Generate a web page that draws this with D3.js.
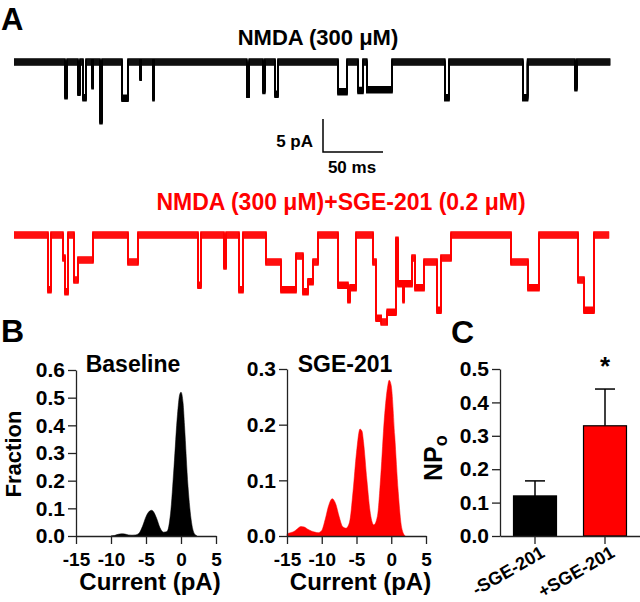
<!DOCTYPE html>
<html><head><meta charset="utf-8">
<script src="https://cdn.jsdelivr.net/npm/d3@7"></script>
<style>
html,body{margin:0;padding:0;background:#fff;}
svg text{font-family:"Liberation Sans",Arial,Helvetica,sans-serif;font-weight:bold;}
</style></head>
<body><svg id="fig" width="640" height="602"></svg>
<script>
// ---------- DATA ----------
// Panel A: idealised single-channel traces, step points (time ms, current pA)
const ctrlT = [0,42.5,44.2,53.3,55,57.5,60,65,66,71.7,73.3,90,95,105,106,115.8,116.7,194,196,207.5,209,217.5,220,270,277.5,286.7,290.8,294,315,359,362.5,424,428,467.5,469,497];
const ctrlI = [0,-5.1,0,-4.6,0,-5.4,0,-3.6,0,-8.9,0,-5.5,0,-2.3,0,-5.4,0,-4.9,0,-4.3,0,-4.9,0,-4.5,0,-4.3,0,-4.2,0,-5.4,0,-5.4,0,-3.9,0,0];
const sgeT = [0,28.3,30.8,40.8,42.5,45,50,53.3,65.8,95,103.3,153.3,155.8,175,176.7,187.5,190.8,210,222.5,235,240.8,245,249.2,253.3,270,278.3,280,285,299.2,301.7,306,311,318.3,320,324.2,325,331.7,334.2,341.7,352.5,355.8,364.2,414.2,428.3,437.5,470,475,483.3,496];
const sgeI = [0,-8.3,0,-3.5,-8.6,0,-6.8,-3.8,0,-4.1,0,-7.6,0,-4.7,0,-8.3,0,-4.1,-8.3,-3.2,-8.6,-7.1,-4.1,0,-7.6,-9.8,-8.0,0,-4.1,-12.6,-13.2,-11.7,-0.8,-7.4,-9.8,-7.4,-3.5,-8.0,-4.1,-11.4,-3.5,0,-4.1,-8.0,0,-6.8,-11.4,0,0];

// Panel B: amplitude histograms (current pA, fraction)
const baseCurrent = [-10,-9.5,-9,-8.5,-8,-7.5,-7,-6.5,-6,-5.5,-5,-4.5,-4.2,-4,-3.5,-3,-2.5,-2,-1.5,-1,-0.5,-0.2,0,0.3,0.5,1,1.5,2,2.3];
const baseFrac    = [0,0.002,0.006,0.008,0.007,0.004,0.003,0.004,0.01,0.035,0.07,0.09,0.093,0.09,0.065,0.03,0.014,0.016,0.08,0.25,0.44,0.51,0.52,0.48,0.40,0.18,0.05,0.005,0];
const sgeCurrent = [-15,-14.5,-14,-13.5,-13,-12.5,-12,-11.5,-11,-10.5,-10,-9.5,-9,-8.5,-8,-7.5,-7,-6.5,-6,-5.5,-5,-4.5,-4.2,-4,-3.5,-3,-2.5,-2,-1.5,-1,-0.5,-0.3,0,0.5,1,1.5,2];
const sgeFrac    = [0.004,0.006,0.008,0.013,0.017,0.016,0.012,0.009,0.007,0.006,0.01,0.03,0.055,0.067,0.058,0.035,0.017,0.014,0.025,0.08,0.15,0.192,0.188,0.17,0.10,0.04,0.02,0.035,0.11,0.21,0.27,0.28,0.27,0.18,0.08,0.015,0];
const histXTicks = [-15,-10,-5,0,5];
const baseYTicks = [0,0.1,0.2,0.3,0.4,0.5,0.6];
const sgeYTicks = [0,0.1,0.2,0.3];

// Panel C: NPo bar chart
const npoCats = ["-SGE-201","+SGE-201"];
const npoMean = [0.12,0.33];
const npoSem  = [0.045,0.11];
const npoYTicks = [0,0.1,0.2,0.3,0.4,0.5];

// ---------- DRAW ----------
const svg = d3.select("#fig");
const RED = "#ff0000";

function label(txt,x,y,size,opts={}){
  const t = svg.append("text").attr("x",x).attr("y",y).style("font-size",size+"px")
    .attr("fill",opts.fill||"#000").attr("text-anchor",opts.anchor||"start").text(txt);
  if(opts.transform) t.attr("transform",opts.transform);
  return t;
}

// Panel letters
label("A",1,30,31);
label("B",1,342,32);
label("C",451,343,32);

// ---- Panel A traces ----
const tScale = d3.scaleLinear().domain([0,500]).range([14,614]);
function drawTrace(T,I,baseY,color,offs){
  const yS = d3.scaleLinear().domain([0,-10]).range([baseY,baseY+66]);
  const pts = T.map((t,i)=>[t,I[i]]);
  const line = d3.line().x(d=>tScale(d[0])).y(d=>yS(d[1])).curve(d3.curveStepAfter);
  const g = svg.append("g");
  offs.forEach(off=>{
    g.append("path").attr("d",line(pts)).attr("transform",`translate(0,${off})`)
      .attr("fill","none").attr("stroke",color).attr("stroke-width",1.5);
  });
  return yS;
}
const yTop = drawTrace(ctrlT,ctrlI,62,"#000",[-3,-2,-1,0,1,2,3]);
drawTrace(sgeT,sgeI,235,RED,[-3,-2,-1,0,1,2,3]);

label("NMDA (300 μM)",318,45,22,{anchor:"middle"});
label("NMDA (300 μM)+SGE-201 (0.2 μM)",341,210,23,{anchor:"middle",fill:RED});

// scale bar: 5 pA, 50 ms
const sbT0 = 257.5, sbX0 = tScale(sbT0), sbX1 = tScale(sbT0+50);
const sbY = 152, sbH = yTop(-5)-yTop(0);
svg.append("path").attr("d",`M${sbX0},${sbY-sbH}V${sbY}H${sbX1}`)
  .attr("fill","none").attr("stroke","#000").attr("stroke-width",1.5);
label("5 pA",313,147,17,{anchor:"end"});
label("50 ms",352,173,17,{anchor:"middle"});

// ---- Panel B histograms ----
function histPanel(x0,x1,yTop0,yMax,yTicks,cur,frac,color,title,titleX){
  const xS = d3.scaleLinear().domain([-15,5]).range([x0,x1]);
  const yS = d3.scaleLinear().domain([0,yMax]).range([536,yTop0]);
  const pts = cur.map((c,i)=>[c,frac[i]]);
  svg.append("path").attr("d",d3.area().x(d=>xS(d[0])).y0(yS(0)).y1(d=>yS(d[1])).curve(d3.curveMonotoneX)(pts))
    .attr("fill",color).attr("stroke",color).attr("stroke-width",0.5);
  const gx = svg.append("g").attr("transform","translate(0,536)")
    .call(d3.axisBottom(xS).tickValues(histXTicks).tickSize(8).tickSizeOuter(0).tickFormat(d=>String(d)));
  const gy = svg.append("g").attr("transform",`translate(${x0},0)`)
    .call(d3.axisLeft(yS).tickValues(yTicks).tickSize(8).tickSizeOuter(0).tickFormat(d3.format(".1f")));
  [gx,gy].forEach(g=>{
    g.selectAll("path,line").attr("stroke","#222").attr("stroke-width",1.3);
    g.selectAll("text").style("font-size","21px").attr("fill","#000");
  });
  gx.selectAll("text").style("font-size","19px").attr("dy","1.0em");
  gy.selectAll("text").attr("x",-11);
  label(title,titleX,372,23,{anchor:"middle"});
  label("Current (pA)",(x0+x1)/2+4,590,24,{anchor:"middle"});
}
histPanel(76,216,370,0.6,baseYTicks,baseCurrent,baseFrac,"#000","Baseline",133);
histPanel(287,426,369,0.3,sgeYTicks,sgeCurrent,sgeFrac,RED,"SGE-201",345);
label("Fraction",21,454,22,{anchor:"middle",transform:"rotate(-90,21,454)"});

// ---- Panel C bars ----
const xB = d3.scaleBand().domain(npoCats).range([500,640]).paddingInner(0.386).paddingOuter(0.193);
const yB = d3.scaleLinear().domain([0,0.5]).range([536,369]);
const barCols = ["#000",RED];
npoCats.forEach((c,i)=>{
  const cx = xB(c)+xB.bandwidth()/2;
  svg.append("line").attr("x1",cx).attr("x2",cx).attr("y1",yB(npoMean[i])).attr("y2",yB(npoMean[i]+npoSem[i]))
    .attr("stroke","#000").attr("stroke-width",1.5);
  svg.append("line").attr("x1",cx-10).attr("x2",cx+10).attr("y1",yB(npoMean[i]+npoSem[i])).attr("y2",yB(npoMean[i]+npoSem[i]))
    .attr("stroke","#000").attr("stroke-width",1.5);
  svg.append("rect").attr("x",xB(c)).attr("width",xB.bandwidth())
    .attr("y",yB(npoMean[i])).attr("height",yB(0)-yB(npoMean[i]))
    .attr("fill",barCols[i]).attr("stroke","#000").attr("stroke-width",1.2);
});
const gcx = svg.append("g").attr("transform","translate(0,536)")
  .call(d3.axisBottom(xB).tickSize(8).tickSizeOuter(0));
gcx.selectAll("path,line").attr("stroke","#222").attr("stroke-width",1.3);
gcx.selectAll("text").style("font-size","18px").attr("text-anchor","end")
  .attr("x",0).attr("y",0).attr("dy",0)
  .attr("transform","translate(11,20) rotate(-30)");
const gcy = svg.append("g").attr("transform","translate(500,0)")
  .call(d3.axisLeft(yB).tickValues(npoYTicks).tickSize(8).tickSizeOuter(0).tickFormat(d3.format(".1f")));
gcy.selectAll("path,line").attr("stroke","#222").attr("stroke-width",1.3);
gcy.selectAll("text").style("font-size","21px").attr("fill","#000").attr("x",-11);
// significance star
label("*",xB("+SGE-201")+xB.bandwidth()/2,yB(npoMean[1]+npoSem[1])-14,26,{anchor:"middle"});
// NPo axis title
const np = svg.append("text").attr("transform","translate(442,481) rotate(-90)").style("font-size","25px");
np.append("tspan").text("NP");
np.append("tspan").text("o").style("font-size","18px").attr("dy",5);
</script></body></html>
